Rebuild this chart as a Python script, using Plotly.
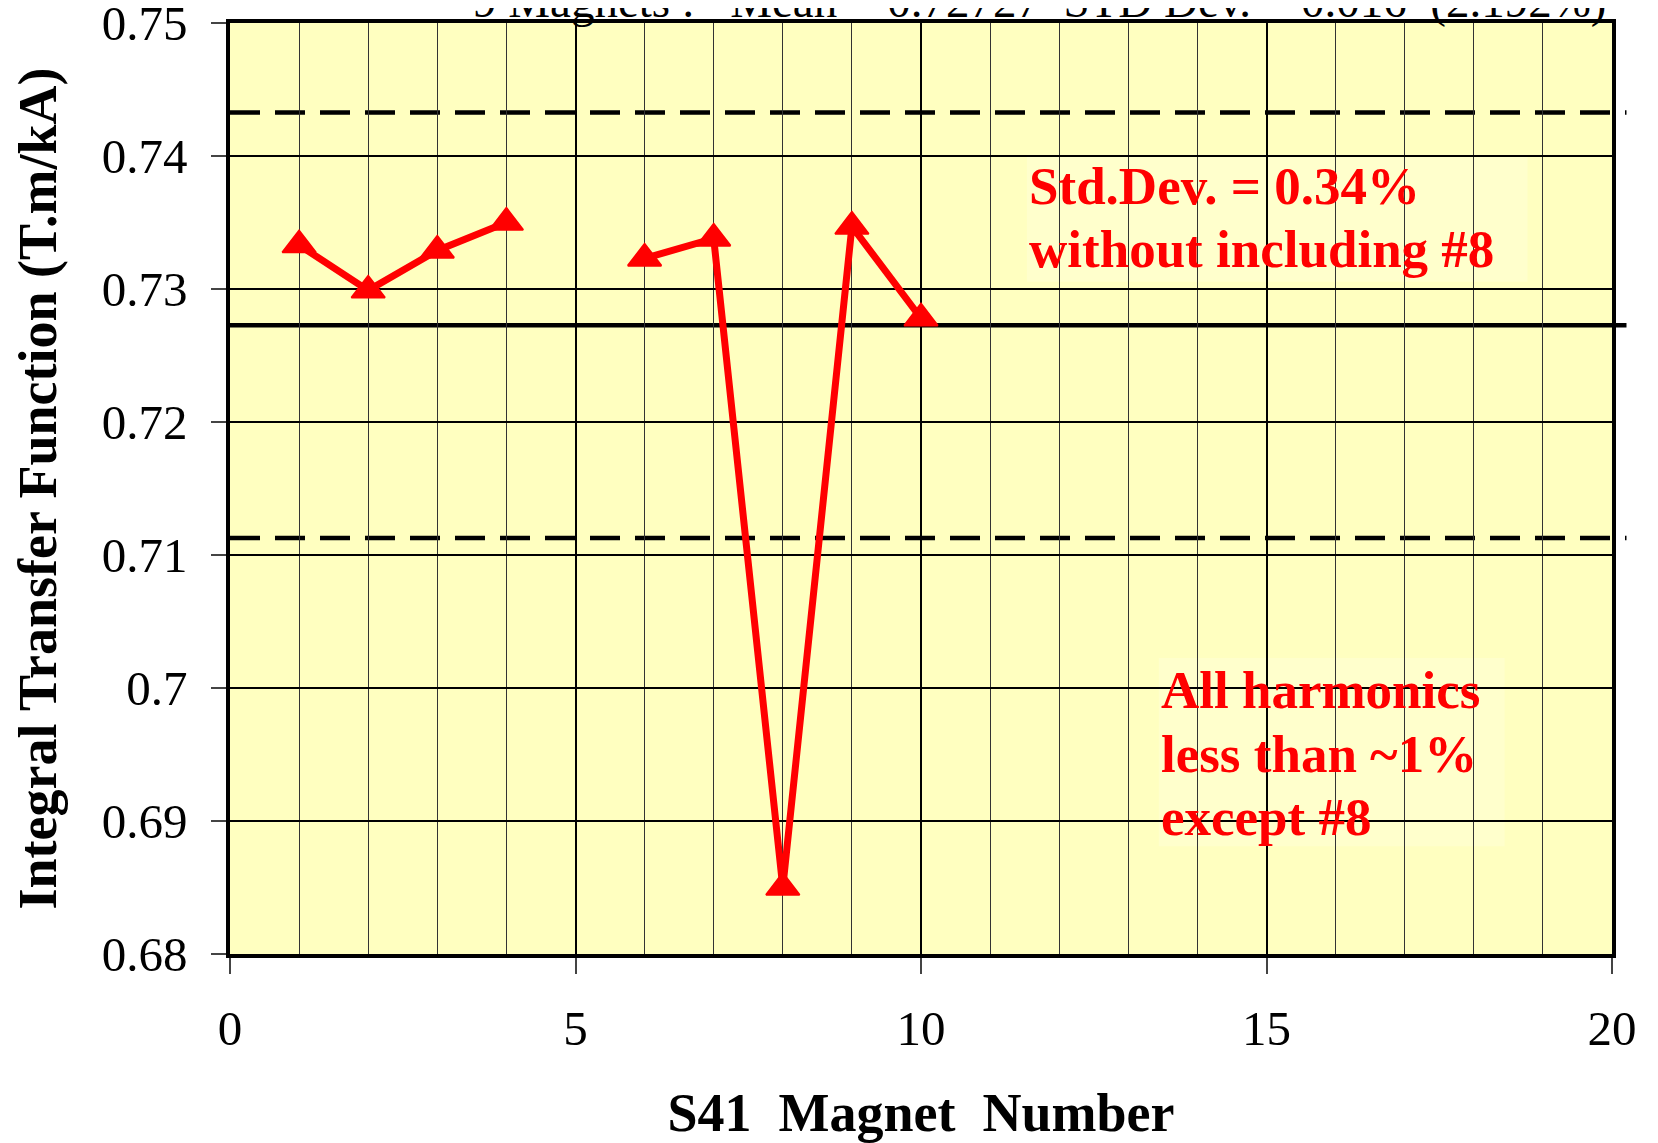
import plotly.graph_objects as go

# ---- data ----
magnet_no = [1, 2, 3, 4, 5, 6, 7, 8, 9, 10]
itf = [0.7333, 0.7299, 0.7329, 0.7350, None, 0.7323, 0.7338, 0.6850, 0.7347, 0.7278]

mean_itf = 0.72727
std_itf = 0.016
x_range = [0, 20]
y_range = [0.68, 0.7500001]
y_ticks = [0.68, 0.69, 0.70, 0.71, 0.72, 0.73, 0.74, 0.75]
y_tick_text = ['0.68', '0.69', '0.7', '0.71', '0.72', '0.73', '0.74', '0.75']

title_text = '9 Magnets :\u00a0\u00a0\u00a0Mean = 0.72727\u00a0\u00a0STD Dev. = 0.016\u00a0\u00a0(2.192%)'
note1_lines = ['Std.Dev. = 0.34%', 'without including #8']
note2_lines = ['All harmonics', 'less than ~1%', 'except #8']

# ---- page geometry (px, page coords; page body adds 8px offset) ----
OFF = 8
W, H = 1658 - OFF, 1143 - OFF
L, R, T, B = 229.5, 1612.5, 23.3, 953.8
FONT = 'Liberation Serif, Times New Roman, serif'
RED = '#FF0000'


def px(x):
    return (x - L) / (R - L)


def py(y):
    return 1 - (y - T) / (B - T)


fig = go.Figure()

fig.add_trace(go.Scatter(
    x=magnet_no, y=itf,
    mode='lines+markers',
    connectgaps=False,
    line=dict(color=RED, width=7),
    marker=dict(symbol='triangle-up', size=29, color=RED, line=dict(color=RED, width=2)),
    showlegend=False,
))

# mean and +/- std lines
for val, dash, width in [(mean_itf, 'solid', 4.5),
                         (mean_itf + std_itf, '30px,15px', 4.5),
                         (mean_itf - std_itf, '30px,15px', 4.5)]:
    fig.add_shape(type='line', xref='paper', yref='y',
                  x0=0, x1=px(1627), y0=val, y1=val,
                  line=dict(color='black', width=width, dash=dash),
                  layer='between')

# note boxes
fig.add_shape(type='rect', xref='paper', yref='paper',
              x0=px(1027), x1=px(1528), y0=py(282), y1=py(155),
              fillcolor='#FFFFCC', line=dict(width=0), layer='between')
fig.add_shape(type='rect', xref='paper', yref='paper',
              x0=px(1159), x1=px(1505), y0=py(846), y1=py(658),
              fillcolor='#FFFFCC', line=dict(width=0), layer='between')

for line, base in zip(note1_lines, [205, 268]):
    fig.add_annotation(xref='paper', yref='paper', x=px(1027), y=py(base - 18.5),
                       xanchor='left', yanchor='middle', showarrow=False, text=line,
                       font=dict(family=FONT, size=53, color=RED, weight='bold'))
for line, base in zip(note2_lines, [708, 772, 835]):
    fig.add_annotation(xref='paper', yref='paper', x=px(1159), y=py(base - 18.5),
                       xanchor='left', yanchor='middle', showarrow=False, text=line,
                       font=dict(family=FONT, size=53, color=RED, weight='bold'))

# clipped heading at the very top
fig.add_annotation(xref='paper', yref='paper', x=px(1040), y=py(1),
                   xanchor='center', yanchor='middle', showarrow=False, text=title_text,
                   font=dict(family=FONT, size=47, color='black'))

fig.update_xaxes(
    range=x_range, dtick=5, tick0=0,
    showgrid=True, gridcolor='black', gridwidth=2,
    minor=dict(dtick=1, showgrid=True, gridcolor='#333333', gridwidth=1),
    ticks='outside', ticklen=16, tickwidth=1.5, tickcolor='#444444',
    showline=True, linecolor='black', linewidth=3.5, mirror=True,
    zeroline=False,
    tickfont=dict(family=FONT, size=49, color='black'),
    ticklabelstandoff=12,
    title=dict(text='S41\u00a0\u00a0Magnet\u00a0\u00a0Number', standoff=62,
               font=dict(family=FONT, size=54, color='black', weight='bold')),
)
fig.update_yaxes(
    range=y_range, tickvals=y_ticks, ticktext=y_tick_text,
    showgrid=True, gridcolor='black', gridwidth=2,
    ticks='outside', ticklen=15, tickwidth=1.5, tickcolor='#444444',
    showline=True, linecolor='black', linewidth=3.5, mirror=True,
    zeroline=False,
    tickfont=dict(family=FONT, size=49, color='black'),
    ticklabelstandoff=14,
    ticklabeloverflow='allow',
    title=dict(text='Integral Transfer Function (T.m/kA)', standoff=29,
               font=dict(family=FONT, size=54, color='black', weight='bold')),
)

fig.update_layout(
    width=W, height=H,
    margin=dict(l=L - OFF, r=1658 - R, t=T - OFF, b=1143 - B, autoexpand=False),
    plot_bgcolor='#FFFFC0', paper_bgcolor='white',
    showlegend=False,
)

fig.write_html('out.html')
